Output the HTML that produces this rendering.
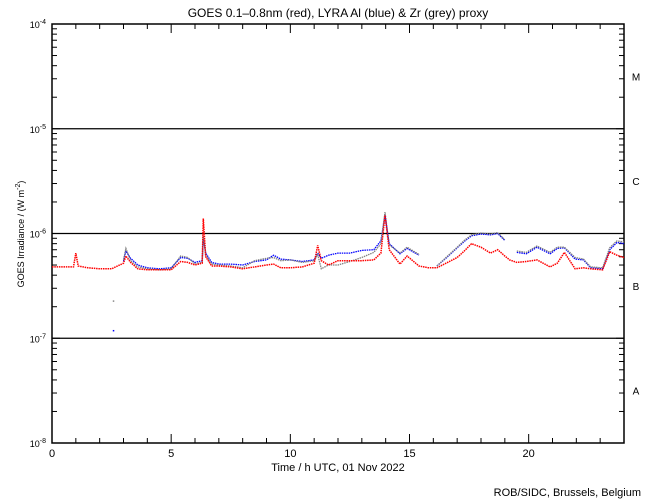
<!DOCTYPE html>
<html><head><meta charset="utf-8"><style>
html,body{margin:0;padding:0;background:#fff;}
svg{display:block;font-family:"Liberation Sans",sans-serif;}
</style></head><body>
<svg id="chart" width="650" height="500" viewBox="0 0 650 500" xmlns="http://www.w3.org/2000/svg">
<rect width="650" height="500" fill="#fff"/>
<text x="338" y="17" text-anchor="middle" font-size="12">GOES 0.1–0.8nm (red), LYRA Al (blue) &amp; Zr (grey) proxy</text>
<text x="338" y="471" text-anchor="middle" font-size="11">Time / h UTC, 01 Nov 2022</text>
<text transform="translate(24,234) rotate(-90)" text-anchor="middle" font-size="9">GOES Irradiance / (W m<tspan font-size="7" dy="-4">-2</tspan><tspan dy="4">)</tspan></text>
<text x="641" y="496" text-anchor="end" font-size="11">ROB/SIDC, Brussels, Belgium</text>
<g id="axes"></g>
<g id="series"></g>
</svg>
<script>
const times=[0,0.5,0.9,1.0,1.1,1.5,2,2.5,3.0,3.1,3.3,3.6,4,4.5,5,5.4,5.7,6.0,6.3,6.35,6.45,6.7,7,7.5,8,8.5,9,9.3,9.6,10,10.5,11,11.15,11.3,11.6,12,12.5,13,13.5,13.8,13.97,14.15,14.6,14.9,15.4,15.8,16.15,16.6,17,17.3,17.6,18,18.4,18.7,19,19.2,19.5,19.9,20.35,20.9,21.2,21.5,21.95,22.3,22.6,23.1,23.4,23.7,24];
// values in units of 1e-7 W/m^2
const goesRed=[4.8,4.8,4.8,6.5,4.9,4.7,4.6,4.6,5.2,6.1,5.3,4.6,4.5,4.5,4.5,5.4,5.3,5.0,5.2,13.9,6.0,4.9,4.9,4.8,4.6,4.8,5.0,5.1,4.7,4.7,4.8,5.2,7.7,5.5,5.0,5.5,5.5,5.5,5.6,6.5,15,7.0,5.1,6.1,4.9,4.7,4.7,5.3,5.9,6.8,8.0,7.4,6.5,7.0,6.1,5.6,5.3,5.4,5.6,4.8,5.2,6.6,4.6,4.7,4.6,4.5,6.7,6.2,5.9];
const lyraBlue=[null,null,null,null,null,null,null,null,5.4,6.8,5.8,5.0,4.7,4.6,4.7,5.9,5.8,5.3,5.5,9,6.5,5.3,5.1,5.1,5.0,5.4,5.6,6.2,5.7,5.6,5.4,5.6,6.5,5.8,6.2,6.5,6.5,6.9,7.0,8.5,15,8,6.4,7.2,6.2,null,4.9,6.0,7.3,8.4,9.5,9.9,9.7,10.0,8.6,null,6.6,6.4,7.4,6.4,7.2,7.3,5.7,5.6,4.7,4.6,7.0,8.2,8.0];
const lyraGrey=[null,null,null,null,null,null,null,null,5.6,7.2,5.5,4.8,4.6,4.5,4.6,6.1,5.9,5.1,5.3,9.5,6.2,5.1,5.0,4.9,4.7,5.5,5.8,5.9,5.5,5.6,5.3,5.5,6.3,4.6,5.0,5.0,5.4,5.9,6.6,8.0,16,7.8,6.5,7.4,6.3,null,4.9,6.1,7.4,8.6,9.7,10.1,9.9,10.2,8.7,null,6.8,6.6,7.6,6.6,7.4,7.4,5.9,5.7,4.8,4.7,7.3,8.5,8.3];
const xTickLabels=["0","5","10","15","20"];
const yDecades=[-4,-5,-6,-7,-8];
const classLabels=["M","C","B","A"];

const L=52,R=624,T=24,B=443;
const NS="http://www.w3.org/2000/svg";
const xs=h=>L+(R-L)*h/24;
const ys=logv=>T+(B-T)*(-4-logv)/4;
const yv=v=>ys(Math.log10(v*1e-7));
function el(tag,attrs,parent){const e=document.createElementNS(NS,tag);for(const k in attrs)e.setAttribute(k,attrs[k]);parent.appendChild(e);return e;}
const ax=document.getElementById('axes');
const frame=el('rect',{x:L,y:T,width:R-L,height:B-T,fill:'none',stroke:'#000','stroke-width':1.5},ax);


[-5,-6,-7].forEach(d=>{const ln=el('line',{x1:L,x2:R,y1:ys(d),y2:ys(d),stroke:'#000','stroke-width':1.3},ax);

});
for(let d=-8;d<-4;d++){for(let m=1;m<10;m++){const y=ys(d+Math.log10(m));const len=m===1?8:5;
el('line',{x1:L,x2:L+len,y1:y,y2:y,stroke:'#000'},ax);el('line',{x1:R,x2:R-len,y1:y,y2:y,stroke:'#000'},ax);}}
yDecades.forEach(d=>{const t=el('text',{x:L-6,y:ys(d)+4,'text-anchor':'end','font-size':9},ax);


t.innerHTML='10<tspan font-size="7" dy="-4">'+d+'</tspan>';});
classLabels.forEach((c,i)=>{const t=el('text',{x:636,y:(ys(-4-i)+ys(-5-i))/2+4,'text-anchor':'middle','font-size':10},ax);


t.textContent=c;});
for(let h=0;h<=24;h++){const x=xs(h);const len=h%5===0?9:5;
el('line',{x1:x,x2:x,y1:B,y2:B-len,stroke:'#000'},ax);el('line',{x1:x,x2:x,y1:T,y2:T+len,stroke:'#000'},ax);}
xTickLabels.forEach(s=>{const t=el('text',{x:xs(+s),y:457,'text-anchor':'middle','font-size':11},ax);


t.textContent=s;});
const sg=document.getElementById('series');
function drawSeries(vals,color,name,w){let d='';let pen=false;
vals.forEach((v,i)=>{if(v==null){pen=false;return;}d+=(pen?'L':'M')+xs(times[i]).toFixed(1)+' '+yv(v).toFixed(1)+' ';pen=true;});
const p=el('path',{d:d,fill:'none',stroke:color,'stroke-width':w,'stroke-dasharray':'1.5 0.8'},sg);

}
drawSeries(lyraBlue,'#0000ff','lyra-al-blue-series',1.3);
drawSeries(lyraGrey,'#808080','lyra-zr-grey-series',1.3);
drawSeries(goesRed,'#ff0000','goes-red-series',1.5);
[[2.55,2.3,'#888'],[2.55,1.2,'#0000ff']].forEach(p=>{const r=el('rect',{x:xs(p[0]),y:yv(p[1]),width:1.5,height:1.5,fill:p[2]},sg);

});
</script>
</body></html>
